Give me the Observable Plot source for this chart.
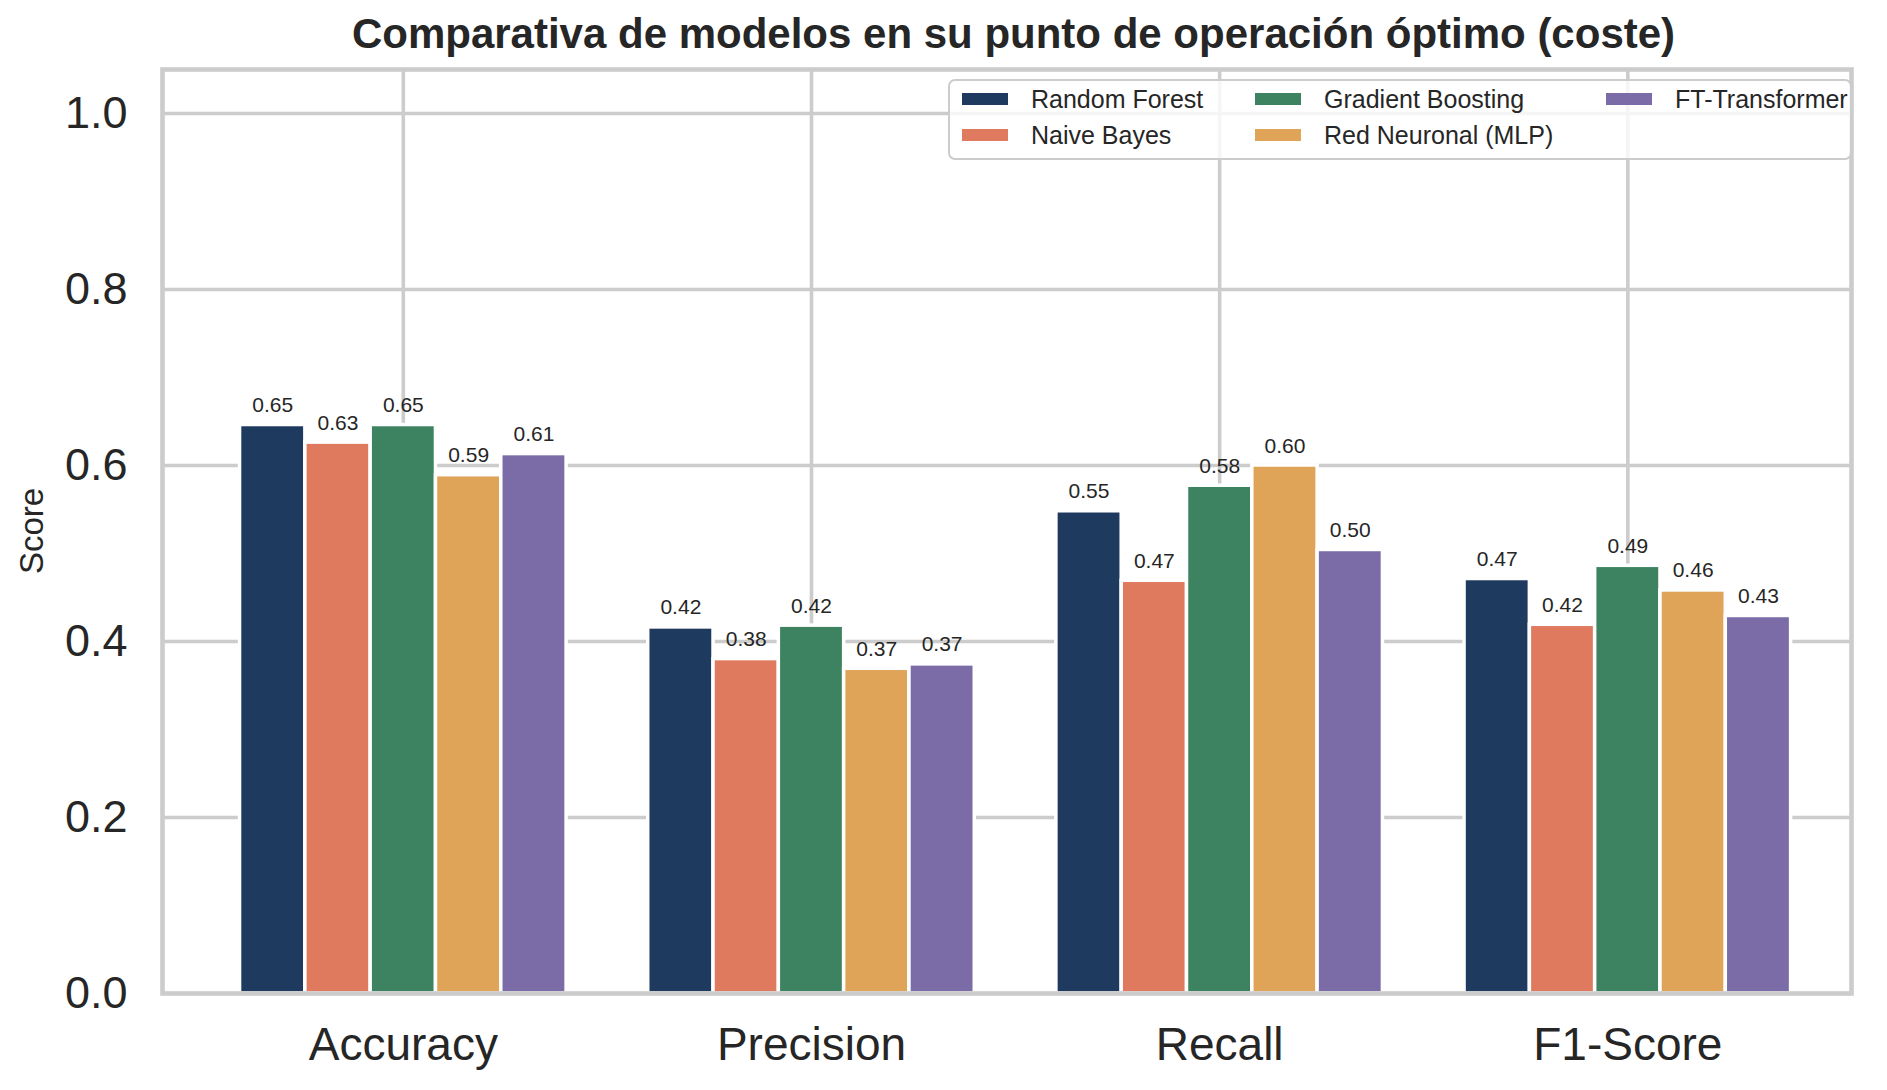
<!DOCTYPE html>
<html>
<head>
<meta charset="utf-8">
<script src="https://cdn.jsdelivr.net/npm/d3@7"></script>
<script src="https://cdn.jsdelivr.net/npm/@observablehq/plot@0.6"></script>
<style>
  html, body { margin: 0; padding: 0; background: #ffffff; }
  #chart { position: relative; width: 1887px; height: 1090px; font-family: "Liberation Sans", Arial, sans-serif; color: #262626; }
  #chart svg { position: absolute; left: 0; top: 0; }
  .title { position: absolute; left: 169px; width: 1689px; top: 0; height: 60px; line-height: 1; text-align: center;
           font-weight: bold; font-size: 42px; }
  .ylabel { position: absolute; left: 32px; top: 531px; font-size: 33px; white-space: nowrap;
            transform: translate(-50%, -50%) rotate(-90deg); }
  .legend { position: absolute; left: 948px; top: 79px; width: 904px; height: 81px; box-sizing: border-box;
            border: 2.5px solid #cccccc; border-radius: 7px; background: rgba(255,255,255,0.8); }
  .item { position: absolute; height: 30px; display: flex; align-items: center; font-size: 25px; white-space: nowrap; }
  .swatch { width: 46px; height: 12px; margin-right: 23px; }
</style>
</head>
<body>
<div id="chart"></div>
<script>
// Metric categories and models
const categories = ["Accuracy", "Precision", "Recall", "F1-Score"];
const models = ["Random Forest", "Naive Bayes", "Gradient Boosting", "Red Neuronal (MLP)", "FT-Transformer"];
const colors = ["#1f3a5f", "#e07a5f", "#3d8361", "#e0a458", "#7b6ca8"];

// Scores per model, in the order of the categories
const randomForest     = [0.646, 0.416, 0.548, 0.471];
const naiveBayes       = [0.626, 0.380, 0.469, 0.419];
const gradientBoosting = [0.646, 0.418, 0.577, 0.486];
const redNeuronal      = [0.589, 0.369, 0.600, 0.458];
const ftTransformer    = [0.613, 0.374, 0.504, 0.429];

const yTicks = [0, 0.2, 0.4, 0.6, 0.8, 1.0];

// Grouped bar layout: each category gets a group 0.8 wide, split among the models
const series = [randomForest, naiveBayes, gradientBoosting, redNeuronal, ftTransformer];
const groupWidth = 0.8;
const barWidth = groupWidth / models.length;
const rows = [];
models.forEach((model, j) => {
  categories.forEach((category, i) => {
    const x1 = i - groupWidth / 2 + j * barWidth;
    rows.push({model, category, value: series[j][i], x1, x2: x1 + barWidth});
  });
});

const grid = "#cccccc";
const ink = "#262626";

const plot = Plot.plot({
  width: 1887,
  height: 1090,
  marginLeft: 162,
  marginRight: 36,
  marginTop: 69,
  marginBottom: 97,
  style: {fontFamily: '"Liberation Sans", Arial, sans-serif', color: ink, background: "transparent"},
  x: {domain: [-0.59, categories.length - 1 + 0.548], axis: null},
  y: {domain: [0, 1.05], axis: null},
  color: {domain: models, range: colors},
  marks: [
    Plot.ruleY(yTicks, {stroke: grid, strokeWidth: 3.6}),
    Plot.ruleX(categories.map((c, i) => i), {stroke: grid, strokeWidth: 3.6}),
    Plot.rect(rows, {x1: "x1", x2: "x2", y1: 0, y2: "value", fill: "model", stroke: "white", strokeWidth: 3.5}),
    Plot.text(rows, {
      x: d => (d.x1 + d.x2) / 2, y: "value", text: d => d.value.toFixed(2),
      lineAnchor: "bottom", dy: -13, fontSize: 21, fill: ink
    }),
    Plot.frame({stroke: grid, strokeWidth: 4.6}),
    Plot.axisY(yTicks, {tickSize: 0, tickPadding: 35, tickFormat: d => d.toFixed(1), fontSize: 45, label: null}),
    Plot.axisX(categories.map((c, i) => i), {tickSize: 0, tickPadding: 34, tickFormat: i => categories[i], fontSize: 46, label: null})
  ]
});

const chart = document.getElementById("chart");
chart.appendChild(plot);

const title = document.createElement("div");
title.className = "title";
title.style.top = "13px";
title.textContent = "Comparativa de modelos en su punto de operación óptimo (coste)";
chart.appendChild(title);

const ylabel = document.createElement("div");
ylabel.className = "ylabel";
ylabel.textContent = "Score";
chart.appendChild(ylabel);

// Legend: two rows, filled column by column
const legend = document.createElement("div");
legend.className = "legend";
const colLeft = [12, 305, 656];
models.forEach((model, j) => {
  const item = document.createElement("div");
  item.className = "item";
  item.style.left = colLeft[Math.floor(j / 2)] + "px";
  item.style.top = (j % 2 === 0 ? 3 : 39) + "px";
  const sw = document.createElement("span");
  sw.className = "swatch";
  sw.style.background = colors[j];
  const label = document.createElement("span");
  label.textContent = model;
  item.appendChild(sw);
  item.appendChild(label);
  legend.appendChild(item);
});
chart.appendChild(legend);
</script>
</body>
</html>
